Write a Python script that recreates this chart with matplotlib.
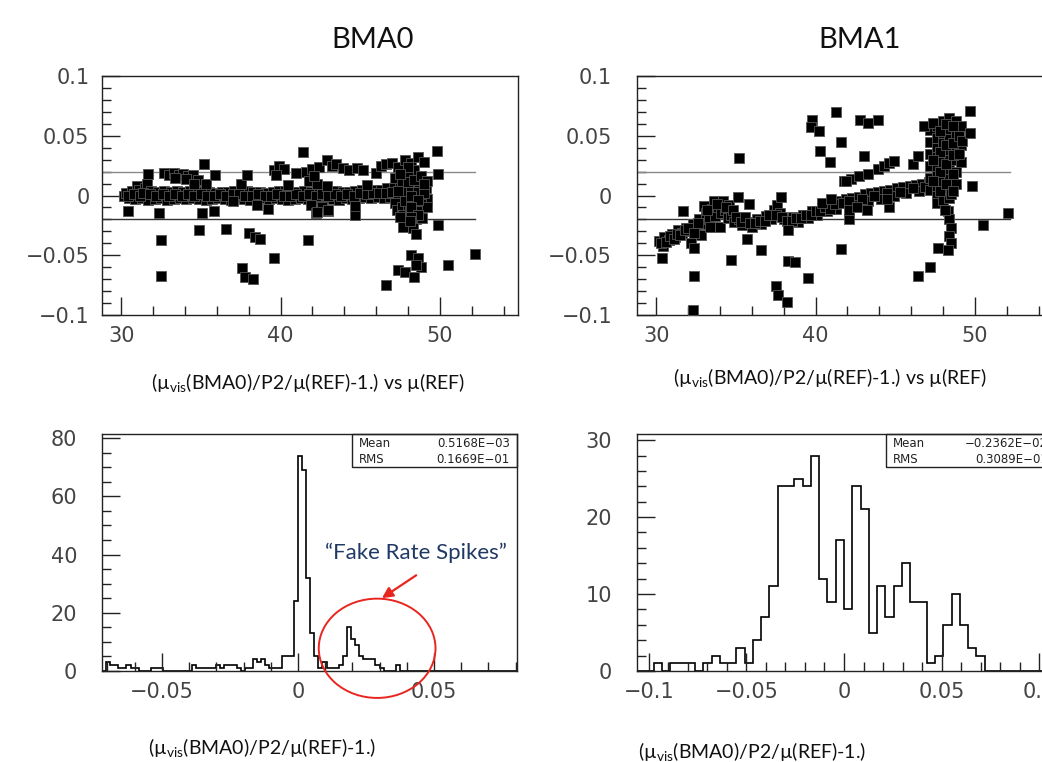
import numpy as np
import matplotlib.pyplot as plt
from matplotlib.patches import Rectangle, Ellipse
from matplotlib.ticker import MultipleLocator, FuncFormatter

plt.rcParams['font.family'] = ['DejaVu Sans']
plt.rcParams['mathtext.fontset'] = 'custom'
plt.rcParams['mathtext.rm'] = 'Lato'

# (mu_vis/P2/mu(REF) - 1) vs mu(REF), BMA0
bma0_band = [
    (30.2, 0.000), (30.3, 0.002), (30.5, -0.002), (30.7, 0.004), (30.9, -0.003), (31.0, 0.008),
    (31.1, 0.005), (31.3, -0.002), (31.5, 0.006), (31.6, 0.010), (31.7, -0.004), (31.9, 0.004),
    (32.1, -0.003), (32.3, 0.003), (32.5, -0.002), (32.7, 0.004), (32.9, -0.004), (33.1, 0.003),
    (33.3, -0.003), (33.5, 0.004), (33.7, -0.002), (33.9, 0.003), (34.1, -0.003), (34.3, 0.004),
    (34.5, -0.002), (34.7, 0.004), (34.9, -0.003), (35.1, 0.003), (35.3, -0.004), (35.5, 0.003),
    (35.7, -0.003), (35.9, 0.002), (36.1, -0.002), (36.3, 0.003), (36.5, -0.003), (36.7, 0.003),
    (36.9, -0.004), (37.1, 0.004), (37.3, -0.002), (37.5, 0.005), (37.7, -0.003), (37.9, 0.004),
    (38.1, -0.004), (38.3, 0.003), (38.5, -0.003), (38.7, 0.003), (38.9, -0.002), (39.1, 0.002),
    (39.3, -0.003), (39.5, 0.003), (39.7, -0.002), (39.9, 0.004), (40.1, -0.003), (40.3, 0.004),
    (40.5, -0.004), (40.7, 0.003), (40.9, -0.003), (41.1, 0.003), (41.3, -0.002), (41.5, 0.004),
    (41.7, -0.003), (41.9, 0.003), (42.1, -0.002), (42.3, 0.004), (42.5, -0.003), (42.7, 0.003),
    (42.9, -0.002), (43.1, 0.004), (43.3, -0.003), (43.5, 0.004), (43.7, -0.004), (43.9, 0.003),
    (44.1, -0.002), (44.3, 0.003), (44.5, -0.003), (44.7, 0.004), (44.9, -0.002), (45.1, 0.005),
    (45.3, -0.001), (45.5, 0.004), (45.7, -0.002), (45.9, 0.005), (46.1, -0.001), (46.3, 0.005),
    (46.5, -0.002), (46.7, 0.006), (46.9, -0.001), (47.1, 0.006), (47.3, -0.002), (47.5, 0.007),
    (47.7, -0.003), (47.9, 0.008), (48.1, -0.002), (48.3, 0.007), (48.5, -0.001), (48.7, 0.008),
    (48.9, -0.002), (49.1, 0.006), (49.2, -0.003),
    (30.4, 0.000), (30.8, 0.001), (31.2, 0.000), (31.4, 0.002), (31.8, 0.001), (32.2, 0.000),
    (32.6, 0.001), (33.0, 0.000), (33.4, 0.001), (33.8, 0.000), (34.2, 0.001), (34.6, 0.000),
    (35.0, 0.001), (35.4, 0.000), (35.8, 0.000), (36.2, 0.001), (36.6, 0.000), (37.0, 0.001),
    (37.4, 0.001), (37.8, 0.000), (38.2, 0.000), (38.6, 0.001), (39.0, 0.000), (39.4, 0.000),
    (39.8, 0.001), (40.2, 0.000), (40.6, 0.000), (41.0, 0.001), (41.4, 0.000), (41.8, 0.001),
    (42.2, 0.000), (42.6, 0.001), (43.0, 0.000), (43.4, 0.001), (43.8, 0.000), (44.2, 0.001),
    (44.6, 0.000), (45.0, 0.002), (45.4, 0.001), (45.8, 0.002), (46.2, 0.002), (46.6, 0.002),
    (47.0, 0.003), (47.4, 0.002), (47.8, 0.003), (48.2, 0.003), (48.6, 0.003), (49.0, 0.002),
]
bma0_upper = [
    (32.7, 0.019), (33.0, 0.017), (33.3, 0.019), (33.6, 0.017), (33.9, 0.018), (34.2, 0.016),
    (34.5, 0.017), (34.8, 0.013), (33.4, 0.015), (34.1, 0.014), (34.6, 0.010), (39.6, 0.021),
    (39.9, 0.025), (40.2, 0.022), (39.7, 0.017), (41.6, 0.020), (42.0, 0.022), (42.4, 0.024),
    (42.9, 0.030), (43.2, 0.025), (43.5, 0.026), (43.9, 0.023), (44.3, 0.021), (44.8, 0.023),
    (45.2, 0.021), (46.0, 0.019), (46.3, 0.025), (46.6, 0.026), (47.0, 0.027), (47.4, 0.024),
    (47.8, 0.030), (48.2, 0.027), (48.6, 0.032), (49.0, 0.028), (48.4, 0.021),
]
bma0_cluster = [
    (47.2, 0.015), (47.2, -0.006), (47.3, -0.012), (47.6, 0.012), (47.6, -0.010), (47.7, -0.016),
    (48.0, 0.018), (48.0, 0.011), (48.0, -0.008), (48.1, -0.014), (48.1, -0.022), (48.4, 0.013),
    (48.4, -0.006), (48.4, -0.012), (48.5, -0.020), (48.3, -0.027), (48.8, 0.016), (48.8, -0.007),
    (48.8, -0.013), (48.9, -0.019), (49.2, 0.012), (49.2, -0.010), (41.8, 0.012), (41.9, -0.008),
    (42.2, -0.015), (42.6, -0.010), (42.9, 0.008), (43.0, -0.013), (42.3, 0.010), (42.1, 0.016),
    (47.4, 0.004), (47.8, -0.005), (48.2, 0.000), (48.6, -0.004), (48.2, -0.010), (48.6, -0.016),
    (48.2, -0.018), (49.0, 0.010), (48.0, 0.024), (47.5, 0.018),
]
bma0_outliers = [
    (30.4, -0.013), (31.7, 0.018), (32.4, -0.015), (32.5, -0.037), (32.5, -0.067), (34.9, -0.029),
    (35.2, 0.026), (35.3, 0.010), (35.1, -0.015), (35.8, -0.013), (35.9, 0.017), (36.6, -0.028),
    (37.0, -0.005), (37.5, 0.010), (37.9, 0.017), (37.6, -0.061), (37.8, -0.068), (38.3, -0.070),
    (38.0, -0.031), (38.4, -0.035), (38.7, -0.036), (38.5, -0.008), (39.2, -0.011), (39.6, -0.052),
    (40.5, 0.009), (41.0, 0.019), (41.4, 0.036), (41.7, -0.037), (42.3, -0.014), (43.0, -0.012),
    (44.7, -0.016), (44.7, -0.009), (45.4, 0.009), (46.6, -0.075), (47.4, -0.062), (47.8, -0.064),
    (47.7, -0.026), (47.5, -0.018), (48.1, -0.021), (48.2, -0.050), (48.6, -0.052), (48.4, -0.068),
    (48.8, -0.060), (48.5, -0.058), (48.5, -0.032), (49.8, 0.037), (49.9, 0.018), (49.9, -0.025),
    (50.5, -0.058), (52.2, -0.049),
]

# same quantity, BMA1
bma1_band = [
    (30.2, -0.038), (30.4, -0.042), (30.5, -0.035), (30.8, -0.037), (31.0, -0.032), (31.2, -0.035),
    (31.4, -0.029), (31.6, -0.031), (31.9, -0.027), (32.1, -0.030), (32.2, -0.040), (32.3, -0.024),
    (32.5, -0.027), (32.7, -0.020), (32.8, -0.033), (32.9, -0.024), (33.0, -0.009), (33.1, -0.015),
    (33.3, -0.020), (33.4, -0.026), (33.5, -0.011), (33.6, -0.005), (33.7, -0.017), (33.9, -0.010),
    (34.0, -0.026), (34.1, -0.015), (34.2, -0.005), (34.3, -0.012), (34.5, -0.019), (34.6, -0.008),
    (34.7, -0.016), (34.9, -0.022), (35.2, -0.020), (35.4, -0.025), (35.7, -0.022), (36.0, -0.026),
    (36.3, -0.020), (36.6, -0.024), (36.9, -0.017), (37.2, -0.020), (37.4, -0.012), (37.6, -0.008),
    (37.8, -0.015), (38.0, -0.020), (38.3, -0.024), (38.6, -0.018), (38.9, -0.022), (39.2, -0.016),
    (39.5, -0.019), (39.8, -0.013), (40.1, -0.016), (40.4, -0.010), (40.7, -0.013), (41.0, -0.008),
    (41.3, -0.010), (41.5, -0.005), (41.9, -0.003), (42.3, -0.002), (42.7, -0.001), (43.1, 0.001),
    (43.5, 0.002), (43.9, 0.003), (44.3, 0.004), (44.7, 0.005), (45.1, 0.006), (45.5, 0.007),
    (45.9, 0.008), (46.3, 0.009), (46.7, 0.010), (47.1, 0.011), (41.3, -0.011), (42.5, -0.008),
    (43.3, -0.005), (44.1, -0.003), (44.9, 0.000), (45.7, 0.002), (46.5, 0.004),
    (30.3, -0.040), (30.6, -0.039), (30.9, -0.034), (31.1, -0.036), (31.3, -0.032), (31.5, -0.033),
    (31.8, -0.029), (32.0, -0.027), (32.4, -0.031), (32.6, -0.023), (33.2, -0.012), (33.8, -0.007),
    (34.4, -0.010), (34.8, -0.012), (35.0, -0.018), (35.3, -0.022), (35.6, -0.018), (35.9, -0.023),
    (36.2, -0.023), (36.5, -0.021), (36.8, -0.021), (37.1, -0.016), (37.5, -0.016), (37.9, -0.018),
    (38.2, -0.021), (38.5, -0.021), (38.8, -0.019), (39.1, -0.019), (39.4, -0.016), (39.7, -0.016),
    (40.0, -0.013), (40.3, -0.013), (40.6, -0.010), (40.9, -0.011), (41.2, -0.007), (41.7, -0.006),
    (42.1, -0.005), (42.9, -0.003), (43.7, 0.000), (44.5, 0.002), (45.3, 0.003), (46.1, 0.006),
    (46.9, 0.007),
]
bma1_upper = [
    (41.8, 0.012), (42.2, 0.014), (42.75, 0.016), (43.3, 0.018), (43.9, 0.022), (44.3, 0.025),
    (44.6, 0.027), (44.95, 0.029), (46.1, 0.026), (46.4, 0.033),
]
bma1_column = [
    (47.2, 0.055), (47.2, 0.045), (47.2, 0.035), (47.2, 0.025), (47.2, 0.015), (47.2, 0.005),
    (47.6, 0.058), (47.6, 0.048), (47.6, 0.040), (47.6, 0.032), (47.6, 0.024), (47.6, 0.016),
    (47.6, 0.008), (47.6, 0.000), (47.6, -0.006), (48.0, 0.062), (48.0, 0.052), (48.0, 0.044),
    (48.0, 0.036), (48.0, 0.028), (48.0, 0.020), (48.0, 0.012), (48.0, 0.004), (48.0, -0.004),
    (48.4, 0.065), (48.4, 0.056), (48.4, 0.047), (48.4, 0.038), (48.4, 0.030), (48.4, 0.022),
    (48.4, 0.014), (48.4, 0.006), (48.4, -0.002), (48.8, 0.062), (48.8, 0.050), (48.8, 0.040),
    (48.8, 0.030), (48.8, 0.020), (48.8, 0.010), (49.1, 0.058), (49.1, 0.042), (49.1, 0.028),
    (46.8, 0.058), (47.4, 0.061), (48.3, -0.013), (48.4, -0.020), (48.5, -0.027), (48.4, -0.034),
    (48.5, -0.040), (48.1, -0.012), (48.5, 0.001),
    (47.8, 0.054), (47.8, 0.036), (47.8, 0.020), (47.8, 0.004), (48.2, 0.060), (48.2, 0.042),
    (48.2, 0.026), (48.2, 0.010), (48.6, 0.058), (48.6, 0.044), (48.6, 0.034), (48.6, 0.018),
    (48.6, 0.004), (49.0, 0.050), (49.0, 0.035), (49.2, 0.046), (47.4, 0.030), (47.4, 0.012),
]
bma1_outliers = [
    (30.35, -0.052), (31.7, -0.013), (32.3, -0.096), (32.4, -0.067), (32.4, -0.044), (34.7, -0.054),
    (35.2, 0.031), (35.15, -0.001), (35.8, -0.007), (35.7, -0.036), (36.6, -0.046), (37.85, -0.001),
    (38.3, -0.029), (38.3, -0.055), (38.7, -0.056), (39.5, -0.069), (37.5, -0.076), (37.65, -0.083),
    (38.2, -0.089), (39.8, 0.063), (39.7, 0.057), (40.2, 0.054), (41.3, 0.070), (40.3, 0.037),
    (40.9, 0.028), (41.6, 0.045), (41.6, -0.045), (42.8, 0.063), (43.3, 0.061), (43.9, 0.063),
    (43.05, 0.033), (40.4, -0.006), (41.0, -0.003), (41.9, 0.012), (42.1, -0.020), (42.1, -0.012),
    (42.6, -0.010), (43.2, -0.012), (44.6, -0.010), (44.5, -0.003), (46.4, -0.067), (47.2, -0.060),
    (47.7, -0.044), (48.3, -0.046), (49.7, 0.071), (49.7, 0.052), (49.8, 0.008), (50.5, -0.025),
    (52.1, -0.015),
]

# residual histograms
h0_lo, h0_w = -0.072, 0.0015
h0_counts = [
    0, 3, 2, 2, 1, 1, 2, 1, 1, 0, 0, 0, 1, 1, 1, 0, 0, 0, 0, 0,
    0, 0, 2, 1, 1, 1, 1, 1, 2, 1, 2, 2, 2, 1, 0, 1, 1, 4, 3, 4,
    2, 1, 1, 1, 5, 5, 5, 24, 74, 69, 32, 13, 5, 1, 3, 1, 1, 1, 2, 5,
    15, 11, 9, 5, 4, 4, 4, 2, 1, 0, 0, 0, 2, 0, 0, 0, 0, 0, 0, 0,
    0, 0, 0, 0, 0, 0, 0, 0, 0, 0, 0, 0, 0, 0, 0, 0, 0, 0, 0, 0,
    0, 0,
]
h1_lo, h1_w = -0.106, 0.00424
h1_counts = [
    0, 0, 1, 0, 1, 1, 1, 0, 1, 2, 1, 1, 3, 1, 4, 7, 11, 24, 24, 25,
    24, 28, 12, 9, 17, 8, 24, 21, 5, 11, 7, 11, 14, 9, 9, 1, 2, 6, 10, 6,
    3, 2, 0, 0, 0, 0, 0, 0, 0, 0,
]
h0_stats = [("Mean", "0.5168E\u221203"), ("RMS", "0.1669E\u221201")]
h1_stats = [("Mean", "\u22120.2362E\u221202"), ("RMS", "0.3089E\u221201")]

xlabel_top = "(\u00b5$_{\\mathrm{vis}}$(BMA0)/P2/\u00b5(REF)-1.) vs \u00b5(REF)"
xlabel_bot = "(\u00b5$_{\\mathrm{vis}}$(BMA0)/P2/\u00b5(REF)-1.)"

W, H = 1042, 762
fig = plt.figure(figsize=(W / 100, H / 100), dpi=100)


def px_axes(x0, x1, y0, y1):
    return fig.add_axes([x0 / W, 1 - y1 / H, (x1 - x0) / W, (y1 - y0) / H])


def fmt(v, pos):
    s = "%g" % round(v, 6)
    return s.replace("-", "\u2212")


def style(ax, xmaj, xmin, ymaj, ymin, ypad):
    for sp in ax.spines.values():
        sp.set_color("#222222")
        sp.set_linewidth(1.0)
    ax.xaxis.set_major_locator(MultipleLocator(xmaj))
    ax.xaxis.set_minor_locator(MultipleLocator(xmin))
    ax.yaxis.set_major_locator(MultipleLocator(ymaj))
    ax.yaxis.set_minor_locator(MultipleLocator(ymin))
    ax.xaxis.set_major_formatter(FuncFormatter(fmt))
    ax.yaxis.set_major_formatter(FuncFormatter(fmt))
    ax.tick_params(which="both", direction="in", top=False, right=False,
                   color="#222222", width=1.0, labelsize=15, labelcolor="#444444")
    ax.tick_params(which="major", length=13)
    ax.tick_params(which="minor", length=6.5)
    ax.tick_params(axis="x", pad=8)
    ax.tick_params(axis="y", pad=ypad)


def scatter_panel(ax, groups):
    for g in groups:
        a = np.array(g)
        ax.scatter(a[:, 0], a[:, 1], marker="s", s=52, c="black",
                   edgecolors="#555555", linewidths=0.6, zorder=3)
    ax.set_xlim(28.8, 54.9)
    ax.set_ylim(-0.1, 0.1)
    ax.plot([28.8, 52.2], [0.02, 0.02], color="#8a8a8a", lw=1.0, zorder=2)
    ax.plot([28.8, 52.2], [-0.02, -0.02], color="#333333", lw=1.0, zorder=2)


def stats_box(ax, x0, rows, xr):
    ax.add_patch(Rectangle((x0, 0.861), 1.0 - x0, 0.139, transform=ax.transAxes,
                           fill=False, edgecolor="#222222", lw=1.0, clip_on=False))
    for k, (name, val) in enumerate(rows):
        yy = 0.962 - k * 0.07
        ax.text(x0 + 0.018, yy, name, transform=ax.transAxes, fontsize=8.5,
                va="center", ha="left", color="#222222")
        ax.text(xr, yy, val, transform=ax.transAxes, fontsize=8.5,
                va="center", ha="right", color="#222222")


# top row: scatter plots
ax1 = px_axes(102, 518, 76, 315)
scatter_panel(ax1, [bma0_band, bma0_upper, bma0_cluster, bma0_outliers])
style(ax1, 10, 2, 0.05, 0.01, 9)

ax2 = px_axes(637, 1053, 76, 315)
scatter_panel(ax2, [bma1_band, bma1_upper, bma1_column, bma1_outliers])
style(ax2, 10, 2, 0.05, 0.01, 18)

# bottom row: histograms
ax3 = px_axes(102, 517, 434, 671)
e0 = h0_lo + h0_w * np.arange(len(h0_counts) + 1)
ax3.stairs(h0_counts, e0, color="black", lw=1.2)
ax3.set_xlim(-0.072, 0.0805)
ax3.set_ylim(0, 1.1 * max(h0_counts))
style(ax3, 0.05, 0.01, 20, 5, 18)
stats_box(ax3, 0.602, h0_stats, 0.983)

ax4 = px_axes(637, 1051, 434, 671)
e1 = h1_lo + h1_w * np.arange(len(h1_counts) + 1)
ax4.stairs(h1_counts, e1, color="black", lw=1.2)
ax4.set_xlim(-0.106, 0.106)
ax4.set_ylim(0, 1.1 * max(h1_counts))
style(ax4, 0.05, 0.01, 10, 2, 18)
stats_box(ax4, 0.601, h1_stats, 0.993)

# highlight of the secondary peak
red = "#e8261f"
ax3.add_patch(Ellipse((0.0291, 7.8), 0.0429, 34.1, fill=False, edgecolor=red,
                      lw=1.4, clip_on=False, zorder=5))
ax3.annotate("", xy=(0.030, 24.5), xytext=(0.0443, 33.4),
             arrowprops=dict(arrowstyle="-|>", color=red, lw=1.6, mutation_scale=16))
ax3.text(0.0434, 40.7, "\u201cFake Rate Spikes\u201d", fontsize=16, color="#203864",
         ha="center", va="center", family=["Lato", "DejaVu Sans"])

# titles and axis captions
cap = dict(family=["Lato", "DejaVu Sans"], color="#111111", ha="center", va="center")
fig.text(373 / W, 1 - 40 / H, "BMA0", fontsize=21, **cap)
fig.text(860 / W, 1 - 40 / H, "BMA1", fontsize=21, **cap)
fig.text(308 / W, 1 - 383 / H, xlabel_top, fontsize=14, **cap)
fig.text(830 / W, 1 - 378 / H, xlabel_top, fontsize=14, **cap)
fig.text(262 / W, 1 - 748 / H, xlabel_bot, fontsize=14, **cap)
fig.text(752 / W, 1 - 752 / H, xlabel_bot, fontsize=14, **cap)

fig.savefig("out.png", dpi=100)
